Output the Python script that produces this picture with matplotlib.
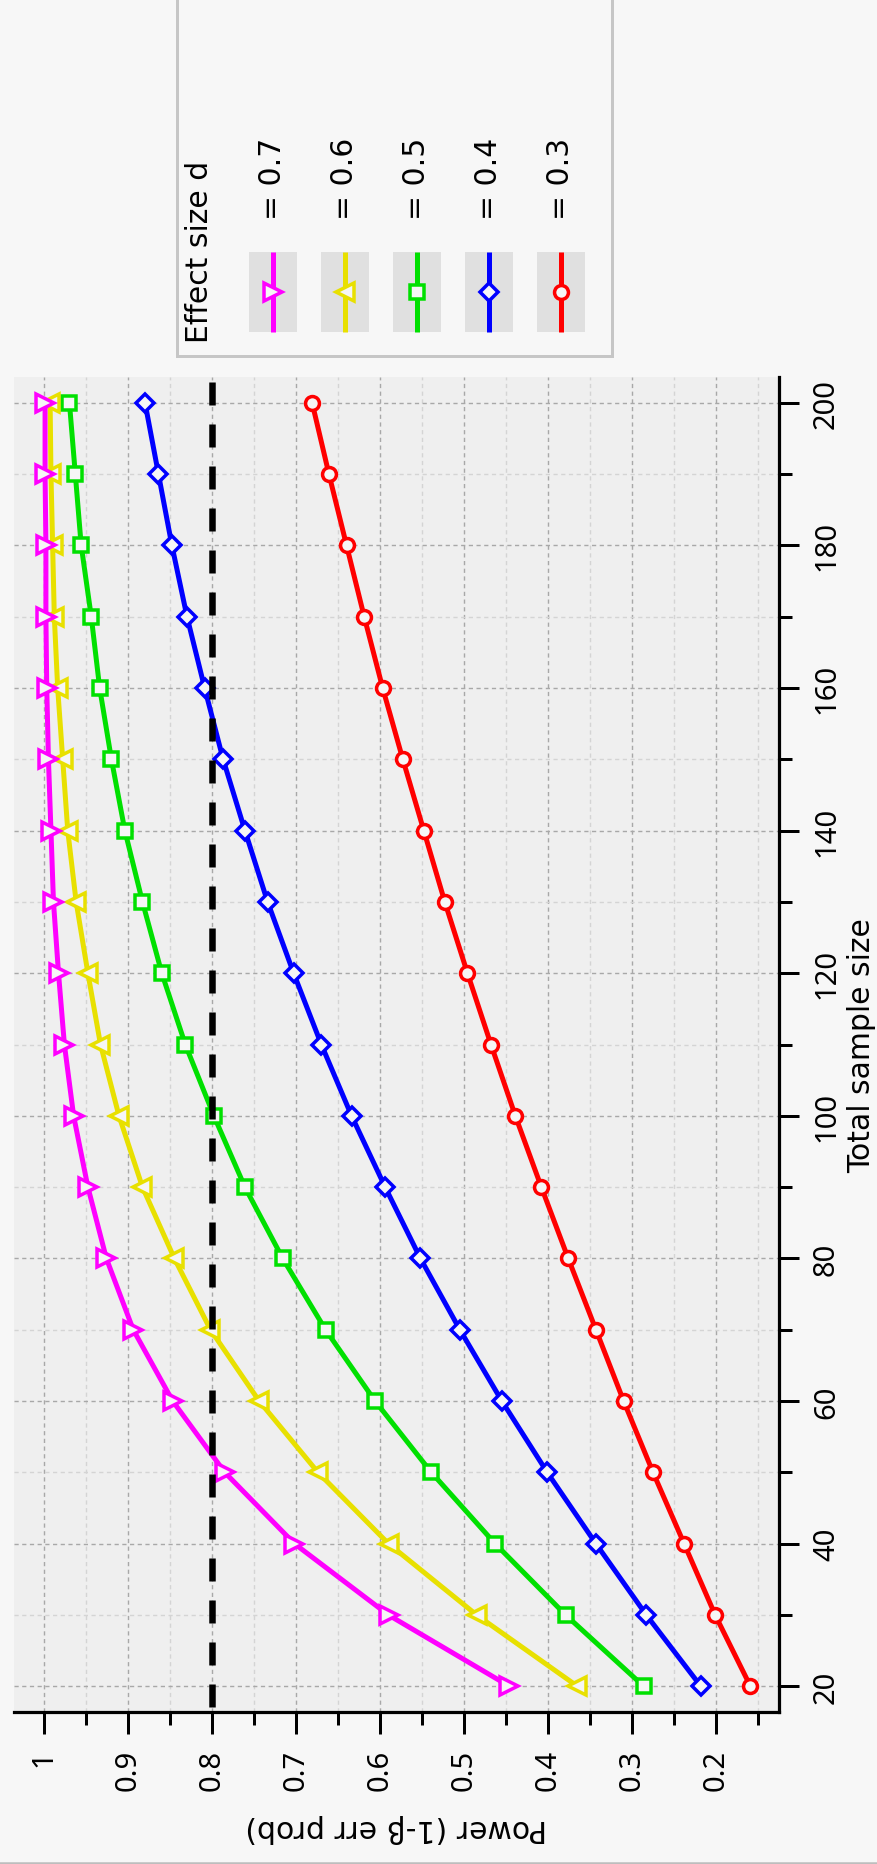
import matplotlib
matplotlib.use('Agg')
import matplotlib.pyplot as plt
from matplotlib.ticker import MultipleLocator, FuncFormatter
from matplotlib.patches import Rectangle

# total sample size (one row of points every 10)
sizes = [20, 30, 40, 50, 60, 70, 80, 90, 100, 110, 120, 130, 140, 150, 160, 170, 180, 190, 200]

# power (1 - beta) for each effect size d
power_07 = [0.446, 0.590, 0.702, 0.785, 0.847, 0.894, 0.926, 0.948, 0.965, 0.976,
            0.983, 0.989, 0.992, 0.995, 0.997, 0.998, 0.998, 0.999, 0.999]
power_06 = [0.365, 0.485, 0.590, 0.674, 0.744, 0.802, 0.845, 0.883, 0.911, 0.933,
            0.948, 0.962, 0.972, 0.978, 0.984, 0.988, 0.990, 0.992, 0.993]
power_05 = [0.286, 0.379, 0.463, 0.539, 0.606, 0.665, 0.716, 0.761, 0.798, 0.832,
            0.860, 0.883, 0.904, 0.920, 0.934, 0.944, 0.956, 0.963, 0.970]
power_04 = [0.218, 0.283, 0.343, 0.401, 0.455, 0.505, 0.552, 0.594, 0.634, 0.670,
            0.703, 0.734, 0.761, 0.787, 0.809, 0.830, 0.848, 0.864, 0.880]
power_03 = [0.159, 0.201, 0.238, 0.275, 0.310, 0.343, 0.376, 0.408, 0.439, 0.468,
            0.496, 0.523, 0.548, 0.573, 0.597, 0.619, 0.640, 0.661, 0.681]

effect_sizes = [0.7, 0.6, 0.5, 0.4, 0.3]
powers = [power_07, power_06, power_05, power_04, power_03]
colors = ['#ff00ff', '#e8e000', '#00e000', '#0000ff', '#ff0000']
markers = ['>', '<', 's', 'D', 'o']
marker_sizes = [12.5, 12.5, 9.5, 9, 10]
target_power = 0.8

W, H, DPI = 878, 1865, 100
FIG_BG = '#f7f7f7'
PLOT_BG = '#efefef'
LINE_W = 5.0   # px
EDGE_W = 3.5   # px
TEXT_FONT = ['DejaVu Sans']


def px(v):
    # pixels -> points
    return v * 72 / DPI


plt.rcParams['font.family'] = ['Noto Sans', 'DejaVu Sans']

fig = plt.figure(figsize=(W / DPI, H / DPI), dpi=DPI, facecolor=FIG_BG)

# chart is laid out on its side: power runs right-to-left along the bottom,
# sample size runs upward on the right
ax = fig.add_axes([14 / W, 1 - 1713 / H, (779 - 14) / W, (1713 - 378) / H])
ax.set_facecolor(PLOT_BG)
ax.set_axisbelow(True)

for i in reversed(range(len(effect_sizes))):
    ax.plot(powers[i], sizes, color=colors[i], lw=px(LINE_W), marker=markers[i],
            ms=marker_sizes[i], mfc='#f6f6f6', mec=colors[i], mew=px(EDGE_W),
            zorder=3 + (len(effect_sizes) - i))

lw_dash = px(6.5)
ax.axvline(target_power, color='black', lw=lw_dash,
           ls=(px(37) / lw_dash, (px(23) / lw_dash, px(19) / lw_dash)), zorder=10)

ax.set_xlim(1.036, 0.125)
ax.set_ylim(16.4, 203.6)

ax.xaxis.set_major_locator(MultipleLocator(0.1))
ax.xaxis.set_minor_locator(MultipleLocator(0.05))
ax.xaxis.set_major_formatter(FuncFormatter(lambda v, _: f'{v:g}'))
ax.yaxis.set_major_locator(MultipleLocator(20))
ax.yaxis.set_minor_locator(MultipleLocator(10))
ax.yaxis.tick_right()

for side in ['left', 'top']:
    ax.spines[side].set_visible(False)
for side in ['bottom', 'right']:
    ax.spines[side].set_linewidth(px(3.2))

ax.tick_params(axis='x', which='major', length=px(22), width=px(3), labelsize=21,
               labelrotation=90, pad=px(15), direction='out')
ax.tick_params(axis='x', which='minor', length=px(13), width=px(3), direction='out')
ax.tick_params(axis='y', which='major', length=px(20), width=px(3), labelsize=21,
               labelrotation=90, pad=px(13), direction='out')
ax.tick_params(axis='y', which='minor', length=px(13), width=px(3), direction='out')
plt.setp(ax.get_yticklabels(), va='center')

ax.grid(which='major', color='#a8a8a8', lw=px(1.4), ls=(0, (3, 2.5)))
ax.grid(which='minor', color='#d4d4d4', lw=px(1.4), ls=(0, (3, 2.5)))

# overlay in pixel coordinates for the legend and axis titles
ov = fig.add_axes([0, 0, 1, 1], zorder=20)
ov.set_xlim(0, W)
ov.set_ylim(H, 0)
ov.axis('off')
ov.patch.set_visible(False)

ov.text(862, 1046, 'Total sample size', rotation=90, ha='center', va='center',
        fontsize=21.5, family=TEXT_FONT)
ov.text(396, 1828, 'Power (1-β err prob)', rotation=180, ha='center', va='center',
        fontsize=21.5, family=TEXT_FONT)

# legend box
ov.add_patch(Rectangle((177, -20), 435, 377, facecolor=FIG_BG, edgecolor='#c6c6c6',
                       lw=px(3)))
ov.text(200, 343, 'Effect size d', rotation=90, ha='center', va='bottom',
        fontsize=21.5, family=TEXT_FONT)
for i, d in enumerate(effect_sizes):
    cx = 273 + i * 72
    ov.add_patch(Rectangle((cx - 24, 253), 48, 80, facecolor='#e0e0e0', edgecolor='none'))
    ov.plot([cx, cx], [253, 333], color=colors[i], lw=px(LINE_W), solid_capstyle='butt')
    ov.plot([cx], [293], marker=markers[i], ms=marker_sizes[i], mfc='#f6f6f6',
            mec=colors[i], mew=px(EDGE_W), ls='none')
    ov.text(cx, 220, f'= {d}', rotation=90, ha='center', va='bottom',
            fontsize=21.5, family=TEXT_FONT)

# thin frame line along the bottom edge
ov.plot([0, W], [1863.5, 1863.5], color='#bdbdbd', lw=px(2.5))

fig.savefig('out.png', dpi=DPI, facecolor=FIG_BG)
